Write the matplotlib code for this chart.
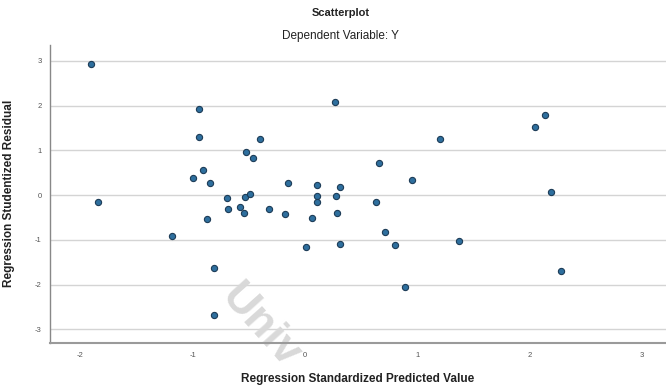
import matplotlib
matplotlib.use("Agg")
import matplotlib.pyplot as plt

# Data
pred = [-1.905, -0.946, -0.943, -0.403, -0.524, -0.459, -0.907, -0.996, -0.848,
        -0.148, 0.108, 0.315, 0.271,
        -1.84, -0.694, -0.536, -0.486, -0.685, -0.581, -0.545, -0.322, -0.177,
        0.108, 0.11, 0.274, 0.063, 0.289, -0.869, -1.18, 0.007, 0.313, -0.812, -0.807,
        2.14, 2.05, 1.206, 0.657, 0.957, 2.19,
        0.636, 0.71, 0.805, 1.375, 2.28, 0.894]
resid = [2.94, 1.92, 1.29, 1.25, 0.96, 0.82, 0.56, 0.38, 0.28,
         0.26, 0.23, 0.19, 2.09,
         -0.157, -0.06, -0.05, 0.03, -0.31, -0.26, -0.41, -0.32, -0.42,
         -0.02, -0.15, -0.02, -0.51, -0.40, -0.54, -0.92, -1.17, -1.10, -1.63, -2.67,
         1.78, 1.53, 1.25, 0.72, 0.33, 0.07,
         -0.157, -0.835, -1.12, -1.03, -1.70, -2.05]
xticks = [-2, -1, 0, 1, 2, 3]
yticks = [-3, -2, -1, 0, 1, 2, 3]

plt.rcParams['font.family'] = ['Liberation Sans', 'DejaVu Sans']
plt.rcParams['axes.unicode_minus'] = False

fig = plt.figure(figsize=(6.66, 3.91), dpi=100)
ax = fig.add_axes([0.075, 0.1235, 0.925, 0.7615])

for yt in yticks:
    ax.axhline(yt, color='#d4d4d4', lw=1.0, zorder=0)

ax.scatter(pred, resid, s=20, c='#2e6f9e', edgecolors='#1d3c57', linewidths=0.8, zorder=3)

ax.set_xlim(-2.27, 3.215)
ax.set_ylim(-3.30, 3.356)
ax.set_xticks(xticks)
ax.set_yticks(yticks)
ax.tick_params(axis='both', length=0, labelsize=5.5, labelcolor='#555555')
ax.tick_params(axis='x', pad=7)
ax.tick_params(axis='y', pad=6)

for s in ['top', 'right']:
    ax.spines[s].set_visible(False)
ax.spines['left'].set_color('#888888')
ax.spines['left'].set_linewidth(1.0)
ax.spines['bottom'].set_color('#9a9a9a')
ax.spines['bottom'].set_linewidth(1.5)

ax.set_xlabel('Regression Standardized Predicted Value', fontsize=8.5, fontweight='bold', labelpad=10, color='#222222')
ax.set_ylabel('Regression Studentized Residual', fontsize=8.5, fontweight='bold', labelpad=14, color='#222222')

fig.text(0.511, 0.967, 'Scatterplot', ha='center', va='center', fontsize=8, fontweight='bold', color='#222222')
fig.text(0.511, 0.907, 'Dependent Variable: Y', ha='center', va='center', fontsize=8.5, color='#222222')

# watermark (behind the points)
ax.text(0.39, 0.165, 'Univ', transform=fig.transFigure, ha='center', va='center',
        fontsize=32, rotation=-48, color='#d9d9d9', fontweight='bold',
        zorder=1, clip_on=False)

fig.savefig('out.png', dpi=100)
